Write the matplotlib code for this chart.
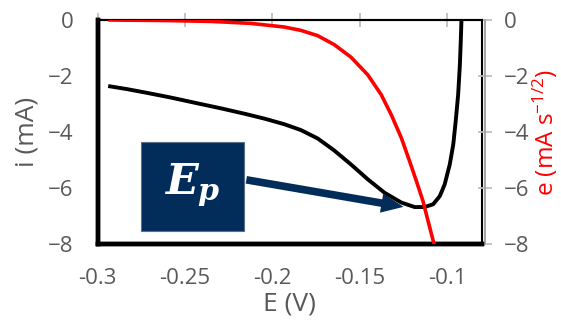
import matplotlib.pyplot as plt
from matplotlib.patches import FancyArrowPatch, Rectangle

plt.rcParams['font.family'] = ['Open Sans', 'DejaVu Sans']
plt.rcParams['mathtext.fontset'] = 'custom'
plt.rcParams['mathtext.it'] = 'DejaVu Serif:bold:italic'
plt.rcParams['mathtext.rm'] = 'Open Sans'

# current (black, left axis)
E_i = [-0.2928, -0.2830, -0.2727, -0.2580, -0.2440, -0.2290, -0.2150, -0.2040,
       -0.1932, -0.1836, -0.1740, -0.1645, -0.1549, -0.1453, -0.1357, -0.1261,
       -0.1185, -0.1128, -0.1079, -0.1041, -0.1013, -0.0984, -0.0964, -0.0950,
       -0.0936, -0.0926, -0.0921, -0.0917]
i_mA = [-2.37, -2.47, -2.59, -2.77, -2.96, -3.16, -3.36, -3.53,
        -3.72, -3.93, -4.23, -4.66, -5.16, -5.69, -6.17, -6.52,
        -6.68, -6.68, -6.58, -6.29, -5.87, -5.16, -4.45, -3.62,
        -2.67, -1.60, -0.77, 0.0]

# convolved current (red, right axis)
E_e = [-0.2928, -0.2600, -0.2350, -0.2124, -0.1932, -0.1836, -0.1740, -0.1645,
       -0.1549, -0.1453, -0.1376, -0.1319, -0.1261, -0.1214, -0.1175, -0.1137,
       -0.1118, -0.1074]
e_val = [0.0, -0.02, -0.05, -0.12, -0.25, -0.37, -0.56, -0.88,
         -1.33, -1.96, -2.67, -3.38, -4.21, -5.04, -5.75, -6.47,
         -6.94, -8.0]

x_ticks = [-0.3, -0.25, -0.2, -0.15, -0.1]
x_labels = ['-0.3', '-0.25', '-0.2', '-0.15', '-0.1']
y_ticks = [0, -2, -4, -6, -8]

grey = '#595959'
tick_grey = '#BFBFBF'

fig = plt.figure(figsize=(5.61, 3.31), dpi=100)
ax = fig.add_axes([0.1738, 0.2628, 0.6852, 0.6768])
ax2 = ax.twinx()

ax.plot(E_i, i_mA, color='black', lw=2.8, solid_joinstyle='round', zorder=3)
ax2.plot(E_e, e_val, color='red', lw=2.6, solid_joinstyle='round', zorder=3)

ax.set_xlim(-0.3, -0.08)
ax.set_ylim(-8, 0)
ax2.set_ylim(-8, 0)

ax.set_xticks(x_ticks)
ax.set_xticklabels(x_labels)
ax.set_yticks(y_ticks)
ax2.set_yticks(y_ticks)

# x ticks sit on the zero line (top), labels stay at the bottom
ax.tick_params(axis='x', top=True, bottom=False, labeltop=False, labelbottom=True,
               direction='inout', length=10, width=1.3, color=tick_grey,
               labelsize=16, labelcolor=grey, pad=12)
ax.tick_params(axis='y', left=False, labelsize=16, labelcolor=grey, pad=14)
ax2.tick_params(axis='y', direction='inout', length=10, width=1.3, color=tick_grey,
                labelsize=16, labelcolor=grey, pad=9)

for a in (ax, ax2):
    a.spines['left'].set_linewidth(3.2)
    a.spines['bottom'].set_linewidth(3.2)
    a.spines['top'].set_linewidth(1.5)
    a.spines['right'].set_linewidth(1.5)
    for s in a.spines.values():
        s.set_color('black')
ax2.spines['right'].set_position(('outward', 2))
ax2.spines['right'].set_color('#A6A6A6')

ax.set_xlabel('E (V)', fontsize=19, color=grey, labelpad=2)
ax.set_ylabel('i (mA)', fontsize=19, color=grey, labelpad=6)
ax2.set_ylabel(r'e (mA s$^{\mathregular{-1/2}}$)', fontsize=17.5, color='red', labelpad=1)

# peak annotation box and arrow
ax2.add_patch(Rectangle((-0.275, -7.53), 0.0587, 3.18, facecolor='#022D5B',
                        edgecolor='#5A6E88', lw=0.8, zorder=5))
ax2.text(-0.2457, -5.9, r'$E_p$', fontsize=31, color='white',
         ha='center', va='center', zorder=6)
ax2.add_patch(FancyArrowPatch((-0.2164, -5.69), (-0.1233, -6.69),
                              arrowstyle='simple,head_width=14,head_length=16,tail_width=5.5',
                              mutation_scale=1, color='#022D5B', lw=0, zorder=5))

fig.savefig('out.png', dpi=100)
